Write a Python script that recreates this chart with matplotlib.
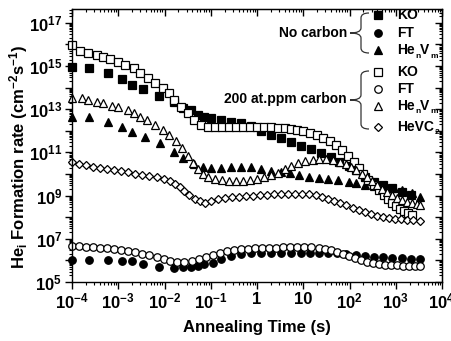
import numpy as np
import matplotlib
matplotlib.use('Agg')
import matplotlib.pyplot as plt
from matplotlib.lines import Line2D
from matplotlib.path import Path
from matplotlib.patches import PathPatch
from matplotlib.ticker import FixedLocator, LogLocator, NullFormatter, FixedFormatter

plt.rcParams['font.family'] = ['Liberation Sans', 'DejaVu Sans']
plt.rcParams['font.weight'] = 'bold'
plt.rcParams['mathtext.fontset'] = 'custom'
plt.rcParams['mathtext.rm'] = 'Liberation Sans:bold'
plt.rcParams['mathtext.bf'] = 'Liberation Sans:bold'
plt.rcParams['mathtext.it'] = 'Liberation Sans:bold'
plt.rcParams['mathtext.default'] = 'bf'

# ---------------- data (log10 of time in s, log10 of rate) ----------------
# No carbon, KO (filled squares)
ko_nc_logt = [-4.00, -3.63, -3.22, -2.91, -2.70, -2.46, -2.11, -1.80, -1.59, -1.43, -1.28, -1.15,
              -1.00, -0.78, -0.57, -0.35, -0.13, 0.09, 0.30, 0.52, 0.74, 0.96, 1.17, 1.39, 1.59,
              1.78, 1.98, 2.15, 2.33, 2.52, 2.72, 2.91, 3.13, 3.33]
ko_nc_logv = [14.95, 14.91, 14.68, 14.40, 14.12, 13.94, 13.61, 13.33, 13.06, 12.96, 12.73, 12.64,
              12.59, 12.50, 12.41, 12.36, 12.22, 11.99, 11.81, 11.67, 11.48, 11.30, 11.16, 10.97, 10.79,
              10.56, 10.37, 10.19, 9.86, 9.63, 9.49, 9.35, 9.17, 9.03]

# No carbon, FT (filled circles)
ft_nc_logt = [-4.00, -3.63, -3.22, -2.91, -2.70, -2.46, -2.11, -1.80, -1.59, -1.43, -1.28, -1.15,
              -0.96, -0.78, -0.57, -0.35, -0.13, 0.09, 0.30, 0.52, 0.74, 0.96, 1.15, 1.35, 1.54,
              1.74, 1.93, 2.13, 2.33, 2.52, 2.72, 2.91, 3.13, 3.33, 3.52]
ft_nc_logv = [6.02, 6.02, 6.02, 5.97, 5.97, 5.83, 5.69, 5.65, 5.69, 5.69, 5.74, 5.83,
              5.88, 6.06, 6.20, 6.30, 6.34, 6.34, 6.34, 6.34, 6.34, 6.34, 6.34, 6.34, 6.34,
              6.34, 6.30, 6.25, 6.20, 6.16, 6.16, 6.11, 6.11, 6.06, 6.06]

# No carbon, HenVm (filled triangles)
hv_nc_logt = [-4.00, -3.63, -3.22, -2.91, -2.70, -2.43, -2.09, -1.80, -1.59, -1.37, -1.17, -1.00,
              -0.78, -0.57, -0.35, -0.13, 0.09, 0.30, 0.52, 0.72, 0.91, 1.13, 1.35, 1.54, 1.76,
              1.98, 2.15, 2.33, 2.54, 2.76, 2.96, 3.13, 3.35, 3.52]
hv_nc_logv = [12.64, 12.64, 12.41, 12.18, 11.94, 11.71, 11.44, 11.02, 10.74, 10.46, 10.32, 10.28,
              10.28, 10.32, 10.32, 10.32, 10.23, 10.14, 10.09, 10.05, 9.95, 9.86, 9.81, 9.77, 9.72,
              9.63, 9.58, 9.49, 9.44, 9.40, 9.35, 9.26, 9.12, 8.94]

# 200 at.ppm carbon, KO (open squares)
ko_c_logt = [-4.00, -3.83, -3.65, -3.46, -3.33, -3.17, -3.00, -2.85, -2.67, -2.52, -2.35, -2.20,
             -2.04, -1.91, -1.80, -1.65, -1.50, -1.37, -1.22, -1.07, -0.91, -0.76, -0.61, -0.46,
             -0.30, -0.15, 0.00, 0.15, 0.30, 0.46, 0.61, 0.74, 0.87, 1.00, 1.15, 1.30, 1.43, 1.57,
             1.70, 1.83, 1.96, 2.09, 2.20, 2.30, 2.41, 2.52, 2.63, 2.74, 2.83, 2.91, 3.00, 3.09,
             3.17, 3.26, 3.35]
ko_c_logv = [15.97, 15.69, 15.60, 15.51, 15.42, 15.32, 15.19, 15.05, 14.91, 14.68, 14.44, 14.21,
             13.98, 13.75, 13.43, 13.10, 12.82, 12.50, 12.27, 12.18, 12.18, 12.18, 12.18, 12.18,
             12.18, 12.18, 12.18, 12.18, 12.18, 12.13, 12.13, 12.08, 12.04, 11.99, 11.90, 11.81,
             11.67, 11.53, 11.34, 11.11, 10.83, 10.56, 10.28, 10.00, 9.72, 9.49, 9.26, 9.03, 8.84,
             8.66, 8.52, 8.38, 8.29, 8.19, 8.10]

# 200 at.ppm carbon, FT (open circles)
ft_c_logt = [-4.00, -3.85, -3.70, -3.54, -3.39, -3.24, -3.09, -2.93, -2.78, -2.63, -2.48, -2.33,
             -2.17, -2.02, -1.89, -1.72, -1.57, -1.41, -1.26, -1.11, -0.96, -0.80, -0.65, -0.50,
             -0.35, -0.20, -0.04, 0.11, 0.26, 0.41, 0.57, 0.72, 0.87, 1.02, 1.17, 1.33, 1.46, 1.59,
             1.72, 1.85, 1.98, 2.11, 2.24, 2.37, 2.50, 2.63, 2.76, 2.89, 3.02, 3.15, 3.28, 3.41, 3.52]
ft_c_logv = [6.67, 6.67, 6.62, 6.62, 6.57, 6.57, 6.53, 6.48, 6.44, 6.39, 6.30, 6.25,
             6.16, 6.06, 5.97, 5.93, 5.93, 5.97, 6.06, 6.16, 6.25, 6.34, 6.44, 6.48,
             6.53, 6.53, 6.57, 6.57, 6.57, 6.57, 6.62, 6.62, 6.62, 6.62, 6.62, 6.57, 6.53, 6.48,
             6.39, 6.30, 6.20, 6.11, 6.02, 5.93, 5.88, 5.83, 5.79, 5.79, 5.79, 5.74, 5.74, 5.74, 5.74]

# 200 at.ppm carbon, HenVm (open triangles)
hv_c_logt = [-4.00, -3.78, -3.65, -3.46, -3.33, -3.13, -3.00, -2.80, -2.67, -2.52, -2.37, -2.20,
             -2.04, -1.91, -1.76, -1.63, -1.50, -1.39, -1.28, -1.17, -1.07, -0.91, -0.76, -0.61,
             -0.46, -0.30, -0.15, 0.00, 0.15, 0.30, 0.46, 0.61, 0.74, 0.89, 1.04, 1.20, 1.35, 1.50,
             1.65, 1.80, 1.93, 2.04, 2.15, 2.26, 2.37, 2.48, 2.59, 2.70, 2.80, 2.91, 3.02, 3.13,
             3.24, 3.35, 3.46, 3.52]
hv_c_logv = [13.52, 13.52, 13.43, 13.33, 13.29, 13.15, 13.10, 12.96, 12.82, 12.64, 12.50, 12.27,
             12.04, 11.81, 11.53, 11.20, 10.83, 10.51, 10.23, 10.00, 9.86, 9.77, 9.72, 9.68,
             9.68, 9.68, 9.72, 9.77, 9.86, 9.95, 10.05, 10.23, 10.37, 10.51, 10.60, 10.65, 10.69,
             10.69, 10.65, 10.56, 10.46, 10.32, 10.19, 10.00, 9.86, 9.68, 9.49, 9.31, 9.17, 9.03,
             8.89, 8.80, 8.70, 8.66, 8.61, 8.56]

# 200 at.ppm carbon, HeVC2 (open diamonds)
hevc_c_logt = [-4.00, -3.85, -3.70, -3.54, -3.39, -3.24, -3.09, -2.93, -2.78, -2.63, -2.48, -2.33,
               -2.17, -2.02, -1.89, -1.78, -1.67, -1.57, -1.46, -1.35, -1.24, -1.13, -1.00, -0.85,
               -0.70, -0.54, -0.39, -0.24, -0.09, 0.07, 0.22, 0.37, 0.52, 0.67, 0.83, 0.98, 1.13,
               1.28, 1.41, 1.54, 1.67, 1.80, 1.93, 2.07, 2.20, 2.33, 2.46, 2.59, 2.72, 2.85, 2.98,
               3.11, 3.24, 3.37, 3.52]
hevc_c_logv = [10.56, 10.46, 10.42, 10.32, 10.28, 10.23, 10.19, 10.14, 10.09, 10.00, 9.95, 9.91,
               9.86, 9.77, 9.68, 9.54, 9.40, 9.21, 9.03, 8.84, 8.75, 8.66, 8.75, 8.84,
               8.89, 8.94, 8.94, 8.98, 8.98, 9.03, 9.03, 9.07, 9.07, 9.07, 9.07, 9.07, 9.07,
               9.03, 8.94, 8.84, 8.75, 8.66, 8.56, 8.43, 8.33, 8.24, 8.15, 8.06, 8.01, 7.96, 7.92,
               7.92, 7.87, 7.87, 7.82]

x_tick_exps = [-4, -3, -2, -1, 0, 1, 2, 3, 4]
x_tick_labels = [r'$10^{-4}$', r'$10^{-3}$', r'$10^{-2}$', r'$10^{-1}$', '1', '10',
                 r'$10^{2}$', r'$10^{3}$', r'$10^{4}$']
y_tick_exps = [5, 7, 9, 11, 13, 15, 17]
y_tick_labels = [r'$10^{5}$', r'$10^{7}$', r'$10^{9}$', r'$10^{11}$', r'$10^{13}$',
                 r'$10^{15}$', r'$10^{17}$']

# legend entries: (pieces of (text, is_subscript))
leg_hv = [('He', False), ('n', True), ('V', False), ('m', True)]
leg_hevc = [('HeVC', False), ('2', True)]

# ---------------- figure ----------------
W, H = 452, 341
fig = plt.figure(figsize=(W / 100, H / 100), dpi=100)
L, R, T, B = 72, 442, 9, 282
ax = fig.add_axes([L / W, 1 - B / H, (R - L) / W, (B - T) / H])

def pts(lt, lv):
    return 10 ** np.array(lt), 10 ** np.array(lv)

ms_sq, ms_ci, ms_tr, ms_di = 5.2, 5.4, 5.6, 4.3
mew = 0.9
series = [
    (ko_nc_logt, ko_nc_logv, 's', ms_sq, 'k'),
    (ft_nc_logt, ft_nc_logv, 'o', ms_ci, 'k'),
    (hv_nc_logt, hv_nc_logv, '^', ms_tr, 'k'),
    (ko_c_logt, ko_c_logv, 's', ms_sq, 'white'),
    (ft_c_logt, ft_c_logv, 'o', ms_ci, 'white'),
    (hv_c_logt, hv_c_logv, '^', ms_tr, 'white'),
    (hevc_c_logt, hevc_c_logv, 'D', ms_di, 'white'),
]
for lt, lv, mk, ms, fc in series:
    x, y = pts(lt, lv)
    ax.plot(x, y, ls='none', marker=mk, ms=ms, mfc=fc, mec='k', mew=mew, clip_on=False)

ax.set_xscale('log')
ax.set_yscale('log')
ax.set_xlim(1e-4, 1e4)
ax.set_ylim(1e5, 10 ** 17.64)

ax.xaxis.set_major_locator(FixedLocator([10.0 ** e for e in x_tick_exps]))
ax.xaxis.set_major_formatter(FixedFormatter(x_tick_labels))
ax.xaxis.set_minor_locator(LogLocator(base=10, subs=np.arange(2, 10), numticks=100))
ax.xaxis.set_minor_formatter(NullFormatter())

y_major = [10.0 ** e for e in range(5, 18)]
y_labels_all = []
for e in range(5, 18):
    y_labels_all.append(y_tick_labels[y_tick_exps.index(e)] if e in y_tick_exps else '')
ax.yaxis.set_major_locator(FixedLocator(y_major))
ax.yaxis.set_major_formatter(FixedFormatter(y_labels_all))
ax.yaxis.set_minor_locator(LogLocator(base=10, subs=np.arange(2, 10), numticks=100))
ax.yaxis.set_minor_formatter(NullFormatter())

ax.tick_params(which='major', direction='out', length=5, width=1, labelsize=12, pad=2)
ax.tick_params(which='minor', direction='out', length=2.5, width=0.8)
for sp in ax.spines.values():
    sp.set_linewidth(1.0)

# top/right ticks pointing inward
secx = ax.secondary_xaxis('top')
secx.xaxis.set_major_locator(FixedLocator([10.0 ** e for e in x_tick_exps]))
secx.xaxis.set_minor_locator(LogLocator(base=10, subs=np.arange(2, 10), numticks=100))
secx.tick_params(which='major', direction='in', length=5, width=1, labeltop=False)
secx.tick_params(which='minor', direction='in', length=2.5, width=0.8)
secx.xaxis.set_major_formatter(NullFormatter())
secx.xaxis.set_minor_formatter(NullFormatter())
secy = ax.secondary_yaxis('right')
secy.yaxis.set_major_locator(FixedLocator(y_major))
secy.yaxis.set_minor_locator(LogLocator(base=10, subs=np.arange(2, 10), numticks=100))
secy.tick_params(which='major', direction='in', length=5, width=1, labelright=False)
secy.tick_params(which='minor', direction='in', length=2.5, width=0.8)
secy.yaxis.set_major_formatter(NullFormatter())
secy.yaxis.set_minor_formatter(NullFormatter())

ax.set_xlabel('Annealing Time (s)', fontsize=12, fontweight='bold', labelpad=6)
ax.set_ylabel(r'He$_{i}$ Formation rate (cm$^{-2}$s$^{-1}$)', fontsize=12, fontweight='bold',
              va='center')
ax.yaxis.set_label_coords((19 - L) / (R - L), 1 - (157 - T) / (B - T))

# ---------------- custom legend ----------------
def fp(x, y):
    return x / W, 1 - y / H

def brace(xr, xv, xt, ytop, ybot, ymid):
    r = 5
    verts = [fp(xr, ytop), fp(xv, ytop), fp(xv, ytop + r),
             fp(xv, ymid - r),
             fp(xv, ymid), fp(xt, ymid),
             fp(xv, ymid), fp(xv, ymid + r),
             fp(xv, ybot - r),
             fp(xv, ybot), fp(xr, ybot)]
    codes = [Path.MOVETO, Path.CURVE3, Path.CURVE3, Path.LINETO,
             Path.CURVE3, Path.CURVE3, Path.CURVE3, Path.CURVE3,
             Path.LINETO, Path.CURVE3, Path.CURVE3]
    fig.add_artist(PathPatch(Path(verts, codes), fc='none', ec='#333333', lw=0.9,
                             transform=fig.transFigure))

brace(369, 361, 350, 13, 53, 33)
brace(369, 361, 350, 71, 129, 100)

fig.text(*fp(347, 33), 'No carbon', ha='right', va='center', fontsize=10, fontweight='bold')
fig.text(*fp(347, 99), '200 at.ppm carbon', ha='right', va='center', fontsize=10, fontweight='bold')

renderer = fig.canvas.get_renderer()

def piece_label(x, y, pieces, size=10, subsize=6):
    cx = x
    for txt, sub in pieces:
        if sub:
            t = fig.text(*fp(cx + 0.5, y + 6), txt, ha='left', va='center',
                         fontsize=subsize, fontweight='bold')
        else:
            t = fig.text(*fp(cx, y), txt, ha='left', va='center',
                         fontsize=size, fontweight='bold')
        bb = t.get_window_extent(renderer)
        cx = cx + bb.width + (0.5 if sub else 0)

leg_items = [
    (15, 's', 'k', ms_sq, [('KO', False)]),
    (33, 'o', 'k', ms_ci, [('FT', False)]),
    (50, '^', 'k', ms_tr, leg_hv),
    (72, 's', 'white', ms_sq, [('KO', False)]),
    (89, 'o', 'white', ms_ci, [('FT', False)]),
    (106, '^', 'white', ms_tr, leg_hv),
    (127, 'D', 'white', ms_di, leg_hevc),
]
for y, mk, fc, ms, pieces in leg_items:
    fig.add_artist(Line2D([fp(378, y)[0]], [fp(378, y)[1]], transform=fig.transFigure,
                          ls='none', marker=mk, ms=ms, mfc=fc, mec='k', mew=mew))
    piece_label(397, y, pieces)

fig.savefig('out.png', dpi=100)
